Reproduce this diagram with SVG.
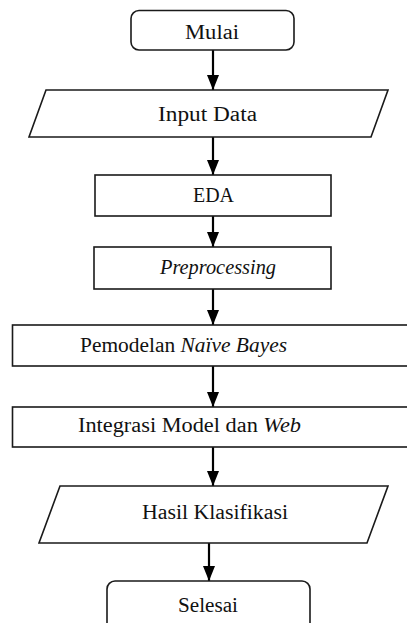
<svg xmlns="http://www.w3.org/2000/svg" width="407" height="623" viewBox="0 0 407 623">
<style>
.box{fill:#fff;stroke:#1a1a1a;stroke-width:1.6}
.lbl{font-family:"Liberation Serif","DejaVu Serif",serif;font-size:20.5px;fill:#111}
.it{font-style:italic}
.conn{stroke:#000;stroke-width:2.2;fill:none}
</style>
<defs>
<marker id="ah" markerWidth="16" markerHeight="12" refX="15" refY="6" orient="auto" markerUnits="userSpaceOnUse">
<path d="M0,0 L15,6 L0,12 Z" fill="#000"/>
</marker>
</defs>
<rect width="407" height="623" fill="#fff"/>
<g id="connectors">
<line class="conn" x1="213" y1="50" x2="213" y2="90" marker-end="url(#ah)"/>
<line class="conn" x1="213" y1="137" x2="213" y2="175" marker-end="url(#ah)"/>
<line class="conn" x1="213" y1="216" x2="213" y2="247" marker-end="url(#ah)"/>
<line class="conn" x1="213" y1="289" x2="213" y2="325" marker-end="url(#ah)"/>
<line class="conn" x1="213" y1="366" x2="213" y2="407" marker-end="url(#ah)"/>
<line class="conn" x1="213" y1="447" x2="213" y2="486" marker-end="url(#ah)"/>
<line class="conn" x1="209" y1="543" x2="209" y2="581" marker-end="url(#ah)"/>
</g>
<g id="mulai">
<rect class="box" x="131" y="10.5" width="163" height="39.5" rx="8"/>
<text class="lbl" x="185" y="38.5" textLength="54" lengthAdjust="spacingAndGlyphs">Mulai</text>
</g>
<g id="input-data">
<polygon class="box" points="46,90 388,90 371,137 29,137"/>
<text class="lbl" x="158" y="120.5" textLength="99" lengthAdjust="spacingAndGlyphs">Input Data</text>
</g>
<g id="eda">
<rect class="box" x="95" y="175" width="236" height="41"/>
<text class="lbl" x="193" y="201.5" textLength="41" lengthAdjust="spacingAndGlyphs">EDA</text>
</g>
<g id="preprocessing">
<rect class="box" x="94" y="247" width="237" height="42"/>
<text class="lbl it" x="160" y="274" textLength="116" lengthAdjust="spacingAndGlyphs">Preprocessing</text>
</g>
<g id="pemodelan">
<rect class="box" x="12.5" y="325" width="400" height="41"/>
<text class="lbl" x="80" y="351.5" textLength="207" lengthAdjust="spacingAndGlyphs">Pemodelan <tspan class="it">Naïve Bayes</tspan></text>
</g>
<g id="integrasi">
<rect class="box" x="12.5" y="407" width="400" height="40"/>
<text class="lbl" x="78" y="431.5" textLength="223" lengthAdjust="spacingAndGlyphs">Integrasi Model dan <tspan class="it">Web</tspan></text>
</g>
<g id="hasil">
<polygon class="box" points="60,486 388,486 367,543 39,543"/>
<text class="lbl" x="142" y="518.5" textLength="146" lengthAdjust="spacingAndGlyphs">Hasil Klasifikasi</text>
</g>
<g id="selesai">
<rect class="box" x="107" y="581" width="203" height="60" rx="8"/>
<text class="lbl" x="178" y="611.5" textLength="60" lengthAdjust="spacingAndGlyphs">Selesai</text>
</g>
</svg>
